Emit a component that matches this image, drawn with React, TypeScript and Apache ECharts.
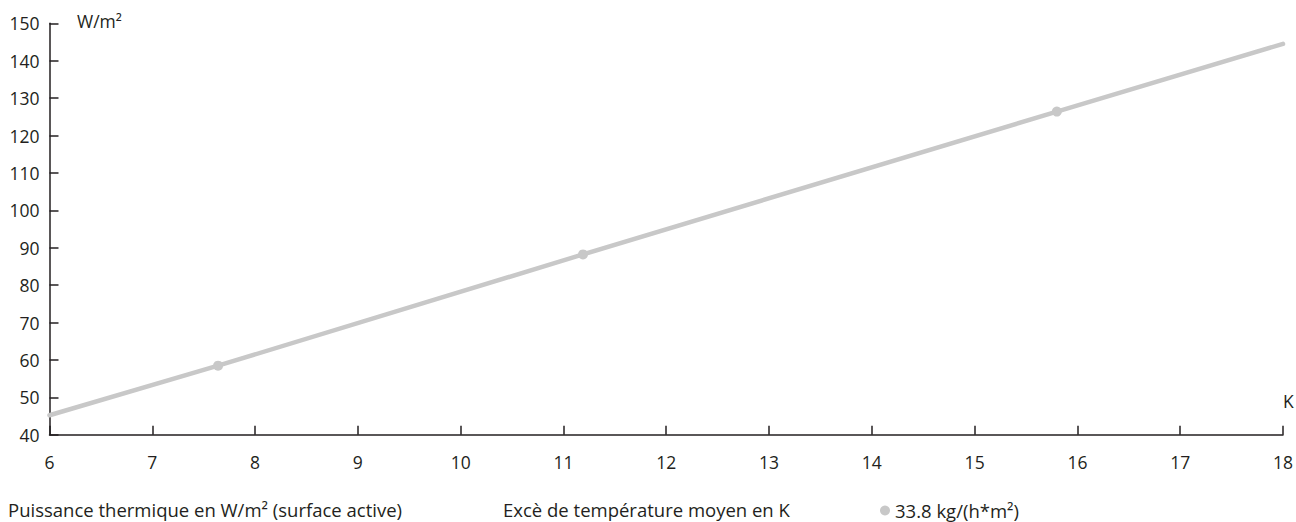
import React, { useEffect, useRef } from "react";
import * as echarts from "echarts";

const kValues = [6, 7.64, 11.19, 15.8, 18];
const powerValues = [45.2, 58.45, 88.2, 126.4, 144.5];
const markerShown = [false, true, true, true, false];
const seriesName = "33.8 kg/(h*m²)";
const yUnit = "W/m²";
const xUnit = "K";
const yTitle = "Puissance thermique en W/m² (surface active)";
const xTitle = "Excè de température moyen en K";

const FONT = "'Open Sans', sans-serif";
const TEXT = "#231f20";
const AXIS = "#231f20";
const LINE = "#c8c8c8";
const TITLE_SIZE = 18.5;
const TICK_SIZE = 17.5;

export default function App() {
  const ref = useRef<HTMLDivElement>(null);
  useEffect(() => {
    if (!ref.current) return;
    const chart = echarts.init(ref.current, undefined, { renderer: "svg" });
    const data = kValues.map((k, i) => ({
      value: [k, powerValues[i]],
      symbol: markerShown[i] ? "circle" : "none",
    }));
    chart.setOption({
      animation: false,
      textStyle: { fontFamily: FONT },
      grid: { left: 49.5, right: 12.7, top: 23.3, bottom: 87.3, containLabel: false },
      legend: {
        data: [{ name: seriesName, icon: "circle" }],
        left: 880,
        top: 501,
        padding: 0,
        itemWidth: 10,
        itemHeight: 10,
        itemGap: 4,
        textStyle: { fontFamily: FONT, fontSize: TITLE_SIZE, color: TEXT, padding: [0, 0, 0, 0] },
        selectedMode: false,
      },
      xAxis: {
        type: "value",
        min: 6,
        max: 18,
        interval: 1,
        axisLine: { show: true, lineStyle: { color: AXIS, width: 1.5 } },
        axisTick: { show: true, inside: true, length: 9, lineStyle: { color: AXIS, width: 1.5 } },
        axisLabel: { color: TEXT, fontSize: TICK_SIZE, fontFamily: FONT, margin: 18 },
        splitLine: { show: false },
      },
      yAxis: {
        type: "value",
        min: 40,
        max: 150,
        interval: 10,
        axisLine: { show: true, lineStyle: { color: AXIS, width: 1.5 } },
        axisTick: { show: true, inside: true, length: 9, lineStyle: { color: AXIS, width: 1.5 } },
        axisLabel: { color: TEXT, fontSize: TICK_SIZE, fontFamily: FONT, margin: 10 },
        splitLine: { show: false },
      },
      series: [
        {
          name: seriesName,
          type: "line",
          data,
          symbolSize: 10,
          showSymbol: true,
          lineStyle: { color: LINE, width: 4.5, cap: "round" },
          itemStyle: { color: LINE },
        },
      ],
      graphic: [
        {
          type: "text",
          left: 77,
          top: 12,
          style: { text: yUnit, fontFamily: FONT, fontSize: TICK_SIZE, fill: TEXT },
        },
        {
          type: "text",
          left: 1283,
          top: 392,
          style: { text: xUnit, fontFamily: FONT, fontSize: TICK_SIZE, fill: TEXT },
        },
        {
          type: "text",
          left: 8,
          top: 500,
          style: { text: yTitle, fontFamily: FONT, fontSize: TITLE_SIZE, fill: TEXT },
        },
        {
          type: "text",
          left: 503,
          top: 500,
          style: { text: xTitle, fontFamily: FONT, fontSize: TITLE_SIZE, fill: TEXT },
        },
      ],
    });
    return () => chart.dispose();
  }, []);
  return <div ref={ref} style={{ width: 1296, height: 522, position: "absolute", left: 0, top: 0 }} />;
}
